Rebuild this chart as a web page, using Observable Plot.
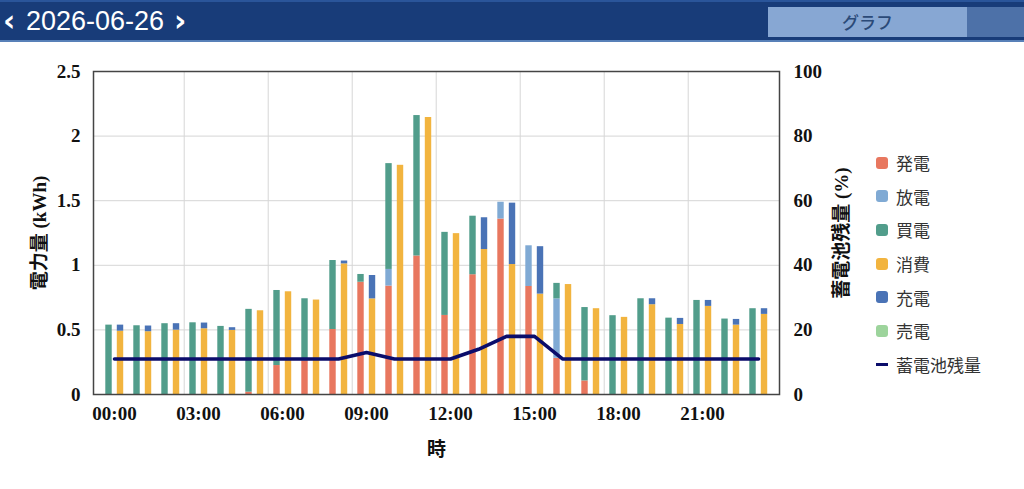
<!DOCTYPE html>
<html><head><meta charset="utf-8">
<script src="https://cdn.jsdelivr.net/npm/d3@7"></script>
<script src="https://cdn.jsdelivr.net/npm/@observablehq/plot@0.6"></script>
<style>
html,body{margin:0;padding:0;background:#fff;width:1024px;height:489px;overflow:hidden;}
#header{position:relative;height:42px;box-sizing:border-box;background:#183c79;border-top:2px solid #2a559a;border-bottom:2px solid #5880b8;color:#fff;font-family:'Liberation Sans',Arial,sans-serif;}
.nav{position:absolute;top:0;line-height:38px;font-size:30px;font-family:'DejaVu Sans',sans-serif;font-weight:bold;}
#date{position:absolute;left:26px;top:0;line-height:38px;font-size:27px;}
#btn{position:absolute;left:768px;top:5px;width:199px;height:30px;background:#87a7d3;color:#2b4a78;text-align:center;line-height:30px;font-size:17px;font-family:'Noto Sans CJK JP',sans-serif;font-weight:500;}
#btn2{position:absolute;left:967px;top:5px;width:57px;height:30px;background:#4d71a8;}
#chart{position:relative;width:1024px;height:447px;}
#legend{position:absolute;left:876px;top:104px;font-family:'Noto Sans CJK JP',sans-serif;font-size:17px;color:#333;}
#legend .row{height:33.6px;display:flex;align-items:center;}
#legend .sw{width:12px;height:12px;border-radius:3px;margin-right:8px;}
#legend .ln{width:12px;height:3px;margin-right:8px;}
</style></head>
<body>
<div id="header">
  <span class="nav" style="left:3px">‹</span>
  <span id="date">2026-06-26</span>
  <span class="nav" style="left:174px">›</span>
  <div id="btn">グラフ</div><div id="btn2"></div>
</div>
<div id="chart"><div id="legend"></div></div>
<script>
// ---- data ----
const hours = ["00:00","01:00","02:00","03:00","04:00","05:00","06:00","07:00","08:00","09:00","10:00","11:00",
               "12:00","13:00","14:00","15:00","16:00","17:00","18:00","19:00","20:00","21:00","22:00","23:00"];
const tickHours = ["00:00","03:00","06:00","09:00","12:00","15:00","18:00","21:00"];
const gridHours = ["03:00","06:00","09:00","12:00","15:00","18:00","21:00"];

// supply side (left bar)
const generation = [0,0,0,0,0,0.018,0.224,0.26,0.503,0.869,0.839,1.072,0.612,0.927,1.358,0.836,0.28,0.105,0,0,0,0,0,0];
const discharge  = [0,0,0,0,0,0,0,0,0,0,0.129,0,0,0,0.13,0.315,0.46,0,0,0,0,0,0,0];
const purchase   = [0.537,0.532,0.548,0.555,0.527,0.641,0.581,0.481,0.534,0.06,0.819,1.087,0.643,0.453,0,0,0.12,0.568,0.61,0.741,0.591,0.728,0.584,0.664];
// demand side (right bar)
const consumption = [0.49,0.486,0.498,0.509,0.496,0.648,0.795,0.731,1.011,0.74,1.774,2.144,1.245,1.122,1.006,0.777,0.851,0.664,0.597,0.695,0.542,0.682,0.537,0.62];
const charge      = [0.047,0.044,0.05,0.044,0.021,0,0,0,0.022,0.181,0,0,0,0.246,0.475,0.367,0,0,0,0.046,0.047,0.046,0.044,0.044];
const sale        = [0,0,0,0,0,0,0,0,0,0,0,0,0,0,0,0,0,0,0,0,0,0,0,0];
// battery state of charge (%)
const soc = [11,11,11,11,11,11,11,11,11,13,11,11,11,14,18,18,11,11,11,11,11,11,11,11];

const seriesNames = ["発電","放電","買電","消費","充電","売電"];
const seriesColors = ["#e8775f","#80aad4","#519d8b","#f2b43f","#4a73b6","#9dd49c"];
const lineName = "蓄電池残量";
const lineColor = "#0b0d6b";

const yTicks = [0,0.5,1,1.5,2,2.5];
const yMax = 2.5, pctMax = 100;
const kwhPerPct = yMax / pctMax;

// ---- tidy tables ----
const supply = [], demand = [];
hours.forEach((h,i) => {
  supply.push({hour:h, series:"発電", value:generation[i]},
              {hour:h, series:"放電", value:discharge[i]},
              {hour:h, series:"買電", value:purchase[i]});
  demand.push({hour:h, series:"消費", value:consumption[i]},
              {hour:h, series:"充電", value:charge[i]},
              {hour:h, series:"売電", value:sale[i]});
});
const socData = hours.map((h,i) => ({hour:h, soc:soc[i]}));

// ---- layout ----
const W = 1024, H = 447, ML = 93, MR = 245, MT = 29, MB = 95;
const bw = (W - ML - MR) / hours.length;

const chart = Plot.plot({
  width: W, height: H,
  marginLeft: ML, marginRight: MR, marginTop: MT, marginBottom: MB,
  style: {fontFamily: "'Liberation Serif','Noto Sans CJK JP',serif", fontSize: "19px", fontWeight: "bold", color: "#111", background: "transparent"},
  x: {type: "band", domain: hours, padding: 0},
  y: {domain: [0, yMax]},
  color: {domain: seriesNames, range: seriesColors},
  marks: [
    Plot.gridY(yTicks.slice(1, -1), {stroke: "#d6d6d6", strokeOpacity: 1, strokeWidth: 1}),
    Plot.ruleX(gridHours, {x: d => d, dx: -bw / 2, stroke: "#d6d6d6", strokeWidth: 1}),
    Plot.barY(supply, Plot.stackY({x: "hour", y: "value", fill: "series", z: "series", order: null,
      insetLeft: 5.3, insetRight: bw - 5.3 - 7})),
    Plot.barY(demand, Plot.stackY({x: "hour", y: "value", fill: "series", z: "series", order: null,
      insetLeft: 16.8, insetRight: bw - 16.8 - 7})),
    Plot.line(socData, {x: "hour", y: d => d.soc * kwhPerPct, stroke: lineColor, strokeWidth: 3.6, strokeLinejoin: "round"}),
    Plot.frame({stroke: "#444", strokeWidth: 1.5}),
    Plot.axisX({ticks: tickHours, tickSize: 0, tickPadding: 12, label: "時", labelAnchor: "center", labelArrow: "none", labelOffset: 61}),
    Plot.axisY({ticks: yTicks, tickSize: 0, tickPadding: 13, tickFormat: d => String(d),
      label: "電力量 (kWh)", labelAnchor: "center", labelArrow: "none", labelOffset: 61}),
    Plot.axisY({anchor: "right", ticks: yTicks, tickSize: 0, tickPadding: 14, tickFormat: d => String(Math.round(d / kwhPerPct)),
      label: "蓄電池残量 (%)", labelAnchor: "center", labelArrow: "none", labelOffset: 68})
  ]
});
document.getElementById("chart").prepend(chart);

// ---- legend ----
const legend = document.getElementById("legend");
seriesNames.forEach((name, i) => {
  const row = document.createElement("div"); row.className = "row";
  row.innerHTML = `<span class="sw" style="background:${seriesColors[i]}"></span><span>${name}</span>`;
  legend.appendChild(row);
});
const lrow = document.createElement("div"); lrow.className = "row";
lrow.innerHTML = `<span class="ln" style="background:${lineColor}"></span><span>${lineName}</span>`;
legend.appendChild(lrow);
</script>
</body></html>
